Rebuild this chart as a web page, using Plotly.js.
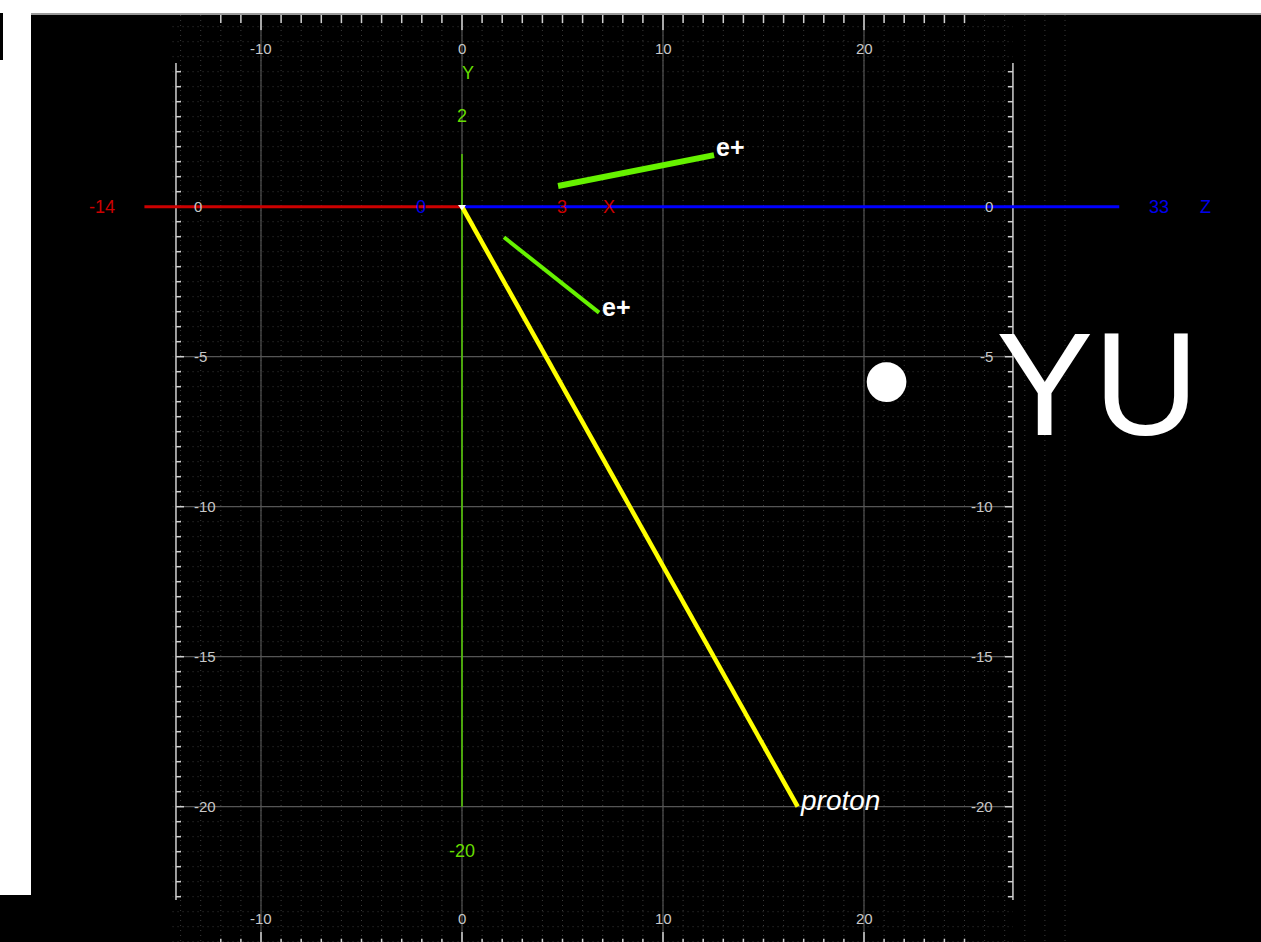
<!DOCTYPE html>
<html><head><meta charset="utf-8">
<script src="https://cdn.plot.ly/plotly-3.0.1.min.js"></script>
<style>html,body{margin:0;padding:0;background:#000;overflow:hidden}#chart{width:1261px;height:942px}</style>
</head><body><div id="chart"></div>
<script>
// ---------------- data ----------------
const xTickLabels = [-10, 0, 10, 20];
const yTickLabels = [0, -5, -10, -15, -20];
const trackNames = ['e+', 'e+', 'proton'];
const protonX = [0, 16.7];
const protonY = [0, -20.0];
const ePlusAX = [4.78, 12.54];
const ePlusAY = [0.69, 1.72];
const ePlusBX = [2.09, 6.82];
const ePlusBY = [-1.02, -3.53];
const axisXExtent = [-15.8, 0];     // red X axis
const axisZExtent = [0, 32.7];      // blue Z axis
const axisYExtent = [1.76, -20.0];  // green Y axis
const axisEndLabels = ['-14', '0', '3', 'X', '33', 'Z', 'Y', '2', '-20'];
const bigText = ['\u2022', 'YU'];

// ---------------- geometry helpers (view frame) ----------------
const XR = [-462 / 20.1, 799 / 20.1];
const YR = [-(942 - 206.7) / 30, 206.7 / 30];
const topEdge = 6.39, bottomEdge = -24.8;
const leftRulerX = -14.23, rightRulerX = 27.41;
const rulerTop = 4.79, rulerBottom = -23.11;

function segs(list) { // list of [x0,y0,x1,y1]
  const x = [], y = [];
  list.forEach(s => { x.push(s[0], s[2], null); y.push(s[1], s[3], null); });
  return {x, y};
}

// minor dotted grid
const minorV = [], minorH = [];
for (let i = -14; i <= 30; i++) minorV.push([i, topEdge, i, bottomEdge]);
for (let j = 12; j >= -49; j--) minorH.push([-14.4, j / 2, rightRulerX, j / 2]);
const minorGrid = segs(minorV.concat(minorH));

// major solid grid
const majV = xTickLabels.map(v => [v, topEdge, v, bottomEdge]);
const majH = yTickLabels.map(v => [leftRulerX, v, rightRulerX, v]);
const majorGrid = segs(majV.concat(majH));

// rulers
const rul = [];
rul.push([leftRulerX, rulerTop, leftRulerX, rulerBottom]);
rul.push([rightRulerX, rulerTop, rightRulerX, rulerBottom]);
for (let t = -12; t <= 25; t++) {
  const major = xTickLabels.indexOf(t) >= 0;
  rul.push([t, topEdge, t, topEdge - (major ? 0.5 : 0.27)]);
  rul.push([t, bottomEdge, t, major ? -24.18 : -24.4]);
}
for (let k = 9; k >= -46; k--) {
  const v = k / 2;
  const major = yTickLabels.indexOf(v) >= 0;
  const len = major ? 0.4 : 0.25;
  rul.push([leftRulerX, v, leftRulerX + len, v]);
  rul.push([rightRulerX, v, rightRulerX - len, v]);
}
const rulers = segs(rul);

const traces = [
  {x: minorGrid.x, y: minorGrid.y, mode: 'lines', line: {color: '#3a3a3a', width: 1, dash: '1px,4px'}, hoverinfo: 'skip'},
  {x: majorGrid.x, y: majorGrid.y, mode: 'lines', line: {color: '#555555', width: 1.2}, hoverinfo: 'skip'},
  {x: rulers.x, y: rulers.y, mode: 'lines', line: {color: '#cfcfcf', width: 1.5}, hoverinfo: 'skip'},
  {x: axisXExtent, y: [0, 0], mode: 'lines', line: {color: '#cc0000', width: 3}, hoverinfo: 'skip'},
  {x: axisZExtent, y: [0, 0], mode: 'lines', line: {color: '#0000ff', width: 3}, hoverinfo: 'skip'},
  {x: [0, 0], y: axisYExtent, mode: 'lines', line: {color: '#55cc00', width: 1.5}, hoverinfo: 'skip'},
  {x: ePlusAX, y: ePlusAY, name: trackNames[0], mode: 'lines', line: {color: '#66f200', width: 6}},
  {x: ePlusBX, y: ePlusBY, name: trackNames[1], mode: 'lines', line: {color: '#66f200', width: 4}},
  {x: protonX, y: protonY, name: trackNames[2], mode: 'lines', line: {color: '#ffff00', width: 4.5}},
  {x: [protonX[0]], y: [protonY[0]], mode: 'markers', marker: {symbol: 'triangle-down', size: 7, color: '#ffffff'}, hoverinfo: 'skip'}
];

const tickFont = {family: 'Liberation Sans, Arial, sans-serif', size: 15, color: '#c8c8c8'};
const lblFont = c => ({family: 'Liberation Sans Narrow, Liberation Sans, Arial, sans-serif', size: 18, color: c});
const ann = [];
xTickLabels.forEach(v => {
  ann.push({x: v, y: 5.29, text: String(v), showarrow: false, font: tickFont, xanchor: 'center', yanchor: 'middle'});
  ann.push({x: v, y: -23.71, text: String(v), showarrow: false, font: tickFont, xanchor: 'center', yanchor: 'middle'});
});
yTickLabels.forEach(v => {
  ann.push({x: -13.45, y: v, text: String(v), showarrow: false, font: tickFont, xanchor: 'left', yanchor: 'middle'});
  ann.push({x: 26.5, y: v, text: String(v), showarrow: false, font: tickFont, xanchor: 'right', yanchor: 'middle'});
});
// axis end labels of the projected frame
const endPos = [[-17.9, 0, '#cc0000'], [-2.04, 0, '#0000ee'], [4.98, 0, '#cc0000'], [7.31, 0, '#cc0000'],
                [34.68, 0, '#0000ee'], [36.97, 0, '#0000ee'], [0.3, 4.47, '#66dd00'], [0, 3.03, '#66dd00'], [0, -21.47, '#66dd00']];
axisEndLabels.forEach((t, i) => {
  ann.push({x: endPos[i][0], y: endPos[i][1], text: t, showarrow: false, font: lblFont(endPos[i][2]), xanchor: 'center', yanchor: 'middle'});
});
// track labels
ann.push({x: ePlusAX[1], y: ePlusAY[1], text: '<b>' + trackNames[0] + '</b>', showarrow: false, xanchor: 'left', yanchor: 'middle', xshift: 0, yshift: 8,
          font: {family: 'Liberation Sans, Arial, sans-serif', size: 25, color: '#ffffff'}});
ann.push({x: ePlusBX[1], y: ePlusBY[1], text: '<b>' + trackNames[1] + '</b>', showarrow: false, xanchor: 'left', yanchor: 'middle', xshift: 1, yshift: 6,
          font: {family: 'Liberation Sans, Arial, sans-serif', size: 25, color: '#ffffff'}});
ann.push({x: protonX[1], y: protonY[1], text: '<i>' + trackNames[2] + '</i>', showarrow: false, xanchor: 'left', yanchor: 'middle', xshift: 0, yshift: 6,
          font: {family: 'Liberation Sans, Arial, sans-serif', size: 28, color: '#ffffff'}});
// big overlay text
ann.push({xref: 'paper', yref: 'paper', x: 886.5 / 1261, y: 1 - 380 / 942, text: bigText[0], showarrow: false, xanchor: 'center', yanchor: 'middle',
          font: {family: 'Liberation Sans, Arial, sans-serif', size: 146, color: '#ffffff'}});
ann.push({xref: 'paper', yref: 'paper', x: 994 / 1261, y: 1 - 384 / 942, text: bigText[1], showarrow: false, xanchor: 'left', yanchor: 'middle',
          font: {family: 'Liberation Sans, Arial, sans-serif', size: 146, color: '#ffffff'}});

const shapes = [
  {type: 'rect', xref: 'paper', yref: 'paper', x0: 0, x1: 1, y0: 1 - 13 / 942, y1: 1, fillcolor: '#ffffff', line: {width: 0}, layer: 'above'},
  {type: 'rect', xref: 'paper', yref: 'paper', x0: 0, x1: 31 / 1261, y0: 1 - 895 / 942, y1: 1, fillcolor: '#ffffff', line: {width: 0}, layer: 'above'},
  {type: 'line', xref: 'paper', yref: 'paper', x0: 31 / 1261, x1: 1, y0: 1 - 14 / 942, y1: 1 - 14 / 942, line: {color: '#9a9a9a', width: 2}, layer: 'above'},
  {type: 'rect', xref: 'paper', yref: 'paper', x0: 0, x1: 3 / 1261, y0: 1 - 60 / 942, y1: 1 - 13 / 942, fillcolor: '#000000', line: {width: 0}, layer: 'above'}
];

const layout = {
  width: 1261, height: 942,
  margin: {l: 0, r: 0, t: 0, b: 0, pad: 0},
  paper_bgcolor: '#000000', plot_bgcolor: '#000000',
  showlegend: false,
  xaxis: {range: XR, visible: false, fixedrange: true},
  yaxis: {range: YR, visible: false, fixedrange: true},
  annotations: ann,
  shapes: shapes,
  hovermode: false
};
traces.forEach(t => { t.showlegend = false; });
Plotly.newPlot('chart', traces, layout, {displayModeBar: false, staticPlot: true});
</script>
</body></html>
